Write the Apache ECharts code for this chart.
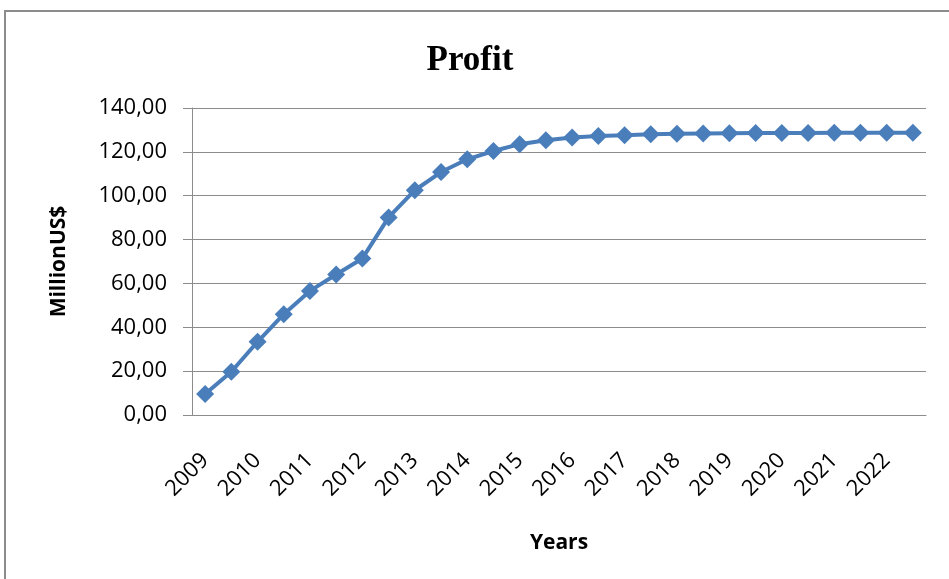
<!DOCTYPE html>
<html>
<head>
<meta charset="utf-8">
<script src="https://cdn.jsdelivr.net/npm/echarts@6/dist/echarts.min.js"></script>
<style>html,body{margin:0;padding:0;background:#fff;}#c{width:949px;height:579px;}</style>
</head>
<body>
<div id="c"></div>
<script>
var categories = ['2009','2009 H2','2010','2010 H2','2011','2011 H2','2012','2012 H2','2013','2013 H2','2014','2014 H2','2015','2015 H2','2016','2016 H2','2017','2017 H2','2018','2018 H2','2019','2019 H2','2020','2020 H2','2021','2021 H2','2022','2022 H2'];
var profit = [9.6, 19.7, 33.4, 46.0, 56.6, 64.1, 71.4, 90.1, 102.5, 110.8, 116.6, 120.4, 123.5, 125.3, 126.5, 127.2, 127.6, 128.0, 128.3, 128.4, 128.5, 128.6, 128.6, 128.6, 128.7, 128.7, 128.7, 128.7];
var yTicks = {min: 0, max: 140, interval: 20};

var chart = echarts.init(document.getElementById('c'), null, {renderer: 'canvas'});
chart.setOption({
  backgroundColor: '#fff',
  animation: false,
  title: {
    text: 'Profit', left: 465, top: 38, textAlign: 'center',
    textStyle: {fontFamily: 'Liberation Serif', fontWeight: 'bold', fontSize: 35, color: '#000'}
  },
  graphic: [{
    type: 'rect', shape: {x: 5, y: 11, width: 1000, height: 700},
    style: {fill: 'none', stroke: '#8c8c8c', lineWidth: 2}, silent: true
  }],
  grid: {left: 192, right: 23, top: 108, bottom: 164, containLabel: false},
  xAxis: {
    type: 'category', data: categories, boundaryGap: true,
    name: 'Years', nameLocation: 'middle', nameGap: 118,
    nameTextStyle: {fontFamily: 'Open Sans', fontWeight: 'bold', fontSize: 21, color: '#000'},
    axisLine: {lineStyle: {color: '#8c8c8c', width: 1}},
    axisTick: {show: false},
    axisLabel: {interval: 1, rotate: 45, margin: 42, fontFamily: 'Open Sans', fontSize: 22, color: '#000'},
    splitLine: {show: false}
  },
  yAxis: {
    type: 'value', min: yTicks.min, max: yTicks.max, interval: yTicks.interval,
    name: 'MillionUS$', nameLocation: 'middle', nameGap: 122,
    nameTextStyle: {fontFamily: 'Open Sans', fontWeight: 'bold', fontSize: 21, color: '#000'},
    axisLine: {show: true, lineStyle: {color: '#8c8c8c', width: 1}},
    axisTick: {show: true, inside: false, length: 9, lineStyle: {color: '#8c8c8c'}},
    axisLabel: {margin: 25, fontFamily: 'Open Sans', fontSize: 22, color: '#000',
      formatter: function (v) { return v.toFixed(2).replace('.', ','); }},
    splitLine: {show: true, lineStyle: {color: '#8c8c8c', width: 1}}
  },
  series: [{
    type: 'line', data: profit,
    symbol: 'diamond', symbolSize: 18, showAllSymbol: true,
    lineStyle: {color: '#4a7ebb', width: 4},
    itemStyle: {color: '#4a7ebb'}
  }]
});
</script>
</body>
</html>
